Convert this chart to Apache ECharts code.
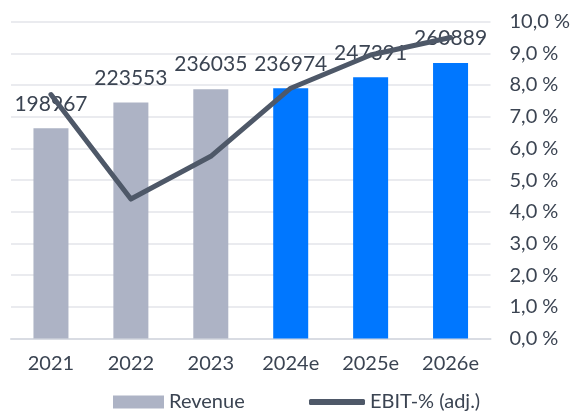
<!DOCTYPE html>
<html>
<head>
<meta charset="utf-8">
<script src="https://cdn.jsdelivr.net/npm/echarts@6/dist/echarts.min.js"></script>
<style>html,body{margin:0;padding:0;background:#fff;}#c{width:573px;height:413px;}</style>
</head>
<body>
<div id="c"></div>
<script>
var categories = ['2021', '2022', '2023', '2024e', '2025e', '2026e'];
var revenue = [198967, 223553, 236035, 236974, 247391, 260889];
var ebitPct = [7.7, 4.4, 5.75, 7.9, 8.95, 9.5];
var isEstimate = [false, false, false, true, true, true];

var textColor = '#3b4452';
var font = 'Lato';
var chart = echarts.init(document.getElementById('c'));
chart.setOption({
  animation: false,
  textStyle: { fontFamily: font, color: textColor },
  grid: { left: 11, right: 82, top: 21.7, bottom: 74.6 },
  legend: [
    {
      top: 387, left: 108, padding: 5,
      itemWidth: 51, itemHeight: 13,
      textStyle: { fontSize: 20, color: textColor, fontFamily: font },
      data: [{ name: 'Revenue', icon: 'rect', itemStyle: { color: '#adb3c5' } }]
    },
    {
      top: 387, left: 304, padding: 5,
      itemWidth: 56, itemHeight: 6,
      textStyle: { fontSize: 20, color: textColor, fontFamily: font },
      data: [{ name: 'EBIT-% (adj.)', icon: 'roundRect', itemStyle: { color: '#4e5868', borderWidth: 0 } }]
    }
  ],
  xAxis: {
    type: 'category', data: categories,
    axisTick: { show: false },
    axisLine: { lineStyle: { color: '#d9dce3', width: 2 } },
    axisLabel: { fontSize: 20, color: textColor, margin: 15, fontFamily: font }
  },
  yAxis: [
    { type: 'value', min: 0, max: 300000, interval: 30000, show: false, splitLine: { show: false } },
    {
      type: 'value', min: 0, max: 10, interval: 1, position: 'right',
      axisLine: { show: false }, axisTick: { show: false },
      splitLine: { lineStyle: { color: '#e3e4ea', width: 1.5 } },
      axisLabel: {
        fontSize: 20, color: textColor, margin: 19, fontFamily: font,
        formatter: function (v) { return v.toFixed(1).replace('.', ',') + ' %'; }
      }
    }
  ],
  series: [
    {
      name: 'Revenue', type: 'bar', yAxisIndex: 0, barWidth: 35,
      data: revenue.map(function (v, i) {
        return { value: v, itemStyle: { color: isEstimate[i] ? '#0077ff' : '#adb3c5' } };
      }),
      itemStyle: { color: '#adb3c5' },
      label: { show: true, position: 'top', distance: 14, fontSize: 21, color: textColor, fontFamily: font },
      z: 2
    },
    {
      name: 'EBIT-% (adj.)', type: 'line', yAxisIndex: 1, data: ebitPct,
      symbol: 'none', showSymbol: false,
      lineStyle: { color: '#4e5868', width: 5, cap: 'round', join: 'round' },
      itemStyle: { color: '#4e5868' },
      z: 3
    }
  ]
});
</script>
</body>
</html>
